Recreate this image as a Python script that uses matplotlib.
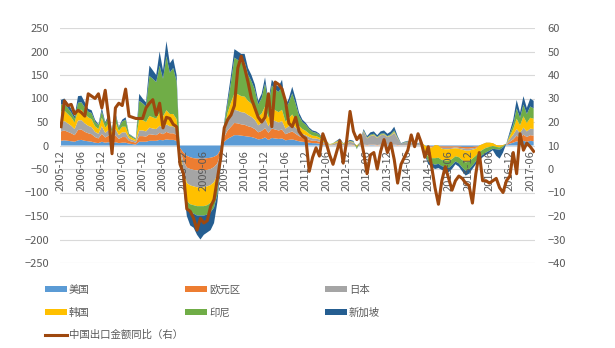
import numpy as np
import pandas as pd
import matplotlib
matplotlib.use('Agg')
import matplotlib.pyplot as plt
from matplotlib.patches import Patch
from matplotlib.lines import Line2D

plt.rcParams['font.family'] = ['Noto Sans CJK SC', 'DejaVu Sans']

# 月份 2005-12 ~ 2017-07
months = pd.period_range('2005-12', periods=140, freq='M').strftime('%Y-%m').tolist()

# 左轴: 各经济体贡献 (堆积面积)
us = [10, 11, 10, 9, 8, 11, 12, 10, 9, 8, 6, 5,
      8, 6, 7, 5, 7, 5, 6, 6, 4, 3, 2, 8,
      8, 8, 10, 10, 10, 12, 11, 13, 12, 12, 10, -5,
      -15, -22, -25, -27, -28, -28, -28, -27, -26, -24, -20, -8,
      8, 14, 18, 22, 22, 21, 20, 19, 18, 16, 13, 14,
      17, 12, 16, 15, 14, 15, 11, 12, 13, 11, 9, 8,
      7, 6, 5, 5, 4, 2, 1, 0, 0, 1, 1, 0,
      0, 1, 0, -1, 0, 1, 0, 1, 1, 0, 1, 1,
      1, 1, 1, 0, 0, 0, 0, 0, 0, 0, 0, -1,
      -2, -2, -2, -2, -2, -2, -2, -2, -2, -2, -3, -3,
      -3, -3, -2, -2, -1, -1, -1, 0, -1, -1, 0, 1,
      4, 6, 9, 7, 10, 8, 10, 9]
ez = [20, 21, 19, 17, 14, 22, 22, 19, 17, 16, 12, 10,
      17, 11, 14, 8, 15, 9, 12, 12, 6, 5, 4, 12,
      12, 11, 14, 13, 12, 15, 13, 16, 14, 14, 12, -5,
      -18, -25, -25, -25, -25, -25, -25, -25, -24, -22, -18, -7,
      10, 18, 22, 26, 25, 24, 24, 22, 21, 19, 15, 17,
      20, 15, 20, 19, 18, 19, 13, 15, 17, 14, 11, 9,
      8, 6, 5, 5, 4, 2, 1, 0, 0, 1, 1, 0,
      1, 1, 1, -1, 0, 1, 1, 1, 1, 1, 1, 1,
      1, 1, 1, 1, 0, 0, 1, 0, 0, 0, 0, -1,
      -2, -2, -3, -3, -3, -3, -3, -3, -2, -3, -3, -4,
      -4, -3, -3, -2, -2, -1, -1, -1, -1, -1, -1, 1,
      4, 7, 12, 9, 13, 10, 12, 12]
jp = [20, 20, 18, 16, 13, 20, 20, 18, 16, 15, 11, 10,
      16, 10, 12, 7, 13, 8, 10, 10, 5, 4, 3, 12,
      12, 11, 14, 13, 13, 15, 14, 16, 15, 15, 12, -4,
      -20, -33, -35, -35, -36, -36, -36, -35, -34, -32, -24, -8,
      10, 18, 24, 28, 27, 26, 26, 24, 22, 20, 15, 17,
      20, 14, 19, 18, 17, 18, 12, 14, 16, 13, 10, 8,
      7, 6, 5, 5, 5, 4, 3, 2, 3, 4, 6, 3,
      4, 6, 5, 2, 7, 28, 14, 18, 20, 15, 20, 21,
      16, 19, 25, 14, 4, 6, 7, 5, 3, 4, 7, 2,
      0, -1, 6, 5, -2, -3, -3, -2, -2, -2, -3, -4,
      -4, -3, -2, 4, 6, 8, 8, 6, 3, 2, 2, 2,
      6, 10, 14, 11, 15, 12, 14, 14]
kr = [22, 22, 20, 18, 14, 22, 22, 20, 18, 17, 12, 10,
      18, 11, 14, 8, 15, 9, 12, 12, 5, 4, 3, 25,
      22, 20, 25, 24, 22, 28, 24, 30, 26, 26, 22, -4,
      -22, -38, -40, -40, -40, -40, -40, -40, -38, -36, -28, -9,
      10, 20, 28, 35, 35, 34, 34, 30, 28, 25, 18, 20,
      26, 18, 25, 23, 22, 24, 15, 17, 20, 16, 12, 10,
      9, 7, 6, 5, 4, 3, 2, 1, 1, 2, 2, 1,
      1, 1, 1, -3, 1, 1, 1, 1, 1, 1, 1, 1,
      1, 1, 2, 1, 0, 0, 0, 0, 0, 0, 0, -12,
      -20, -22, -28, -26, -24, -24, -25, -22, -17, -18, -22, -25,
      -23, -19, -15, -14, -12, -11, -9, -6, -4, -4, -2, 0,
      6, 12, 22, 16, 24, 18, 23, 22]
idn = [15, 14, 13, 10, 8, 16, 16, 14, 12, 13, 10, 8,
       14, 9, 13, 5, 15, 7, 11, 15, 4, 3, 2, 38,
       36, 33, 85, 82, 78, 100, 80, 115, 88, 98, 80, -1,
       -8, -15, -18, -18, -20, -20, -20, -20, -20, -18, -14, -4,
       8, 20, 43, 76, 73, 72, 74, 56, 48, 39, 26, 33,
       49, 28, 48, 44, 43, 50, 27, 33, 45, 35, 21, 15,
       13, 10, 8, 7, 6, 3, 2, 0, 1, 1, 2, 1,
       1, 1, 1, -4, 1, 1, 1, 2, 2, 1, 2, 2,
       1, 2, 3, 1, 0, 1, 1, 0, 0, 0, 0, -5,
       -10, -11, -14, -13, -13, -14, -15, -13, -11, -13, -16, -18,
       -17, -15, -12, -12, -11, -10, -8, -6, -5, -5, -3, 0,
       4, 10, 22, 16, 25, 19, 24, 22]
sg = [10, 12, 10, 8, 5, 14, 14, 11, 6, 6, 4, 2,
      7, 3, 5, 2, 5, 2, 4, 5, 1, 1, 1, 15,
      10, 9, 22, 18, 15, 30, 18, 32, 20, 20, 14, -1,
      -7, -17, -27, -30, -41, -51, -41, -38, -38, -33, -16, -4,
      4, 10, 15, 18, 18, 18, 17, 14, 13, 11, 8, 9,
      13, 8, 12, 11, 11, 14, 7, 9, 14, 11, 7, 5,
      4, 3, 3, 3, 2, 1, 1, 0, 0, 1, 3, 0,
      1, 2, 2, -1, 1, 3, 3, 5, 5, 4, 5, 6,
      5, 6, 8, 3, 1, 1, 1, 1, 1, 1, 1, -3,
      -6, -7, -9, -9, -8, -9, -9, -8, -6, -7, -8, -10,
      -9, -7, -6, -6, -5, -5, -4, -3, -14, -19, -11, 1,
      6, 10, 18, 11, 18, 13, 17, 16]

# 右轴: 中国出口金额同比 (%)
cn_export = [18, 29, 27, 27.5, 23.5, 25, 24, 22.5, 32, 31, 30, 32,
             26, 33.5, 22, 6.5, 26, 28, 27, 34, 22.5, 22, 21.5, 21.5,
             21.5, 26, 28, 29.5, 23, 28, 17.5, 22, 21.5, 19, 18, 2,
             -2, -17, -18, -21, -26, -21, -23, -22, -16, -13, -4, 5,
             17.5, 21, 23, 27, 43, 48, 43, 37, 30, 26, 22, 20,
             22, 32, 18, 37, 36, 34, 29, 19.5, 18, 22, 16, 14,
             13, -1, 5, 9, 5.5, 15, 11, 6, 2, 7, 12, 2.5,
             12, 24.5, 16, 12.5, 14.5, 7, -2, 6, 7, 0, 7.5, 12.5,
             7, 11, 4, -6, 2, 5, 8, 14.5, 9.5, 15, 11, 5,
             9.5, 1, -8, -15, -5, 1, -4, -9, -5, -3, -4, -6,
             -7, -14.5, -2, 7, -5, -5, -6, -5, -4, -8, -10, -5,
             -3, 7, -2, 15, 8, 11, 9.5, 7.5]

names = ['美国', '欧元区', '日本', '韩国', '印尼', '新加坡']
colors = ['#5B9BD5', '#ED7D31', '#A5A5A5', '#FFC000', '#70AD47', '#255E91']
line_color = '#9E480E'
txt = '#595959'

x = np.arange(len(months))

fig = plt.figure(figsize=(6.15, 3.48), dpi=100)
ax = fig.add_axes([60/615, 85/348, 475/615, 235/348])

yt = np.arange(-250, 251, 50)
for v in yt:
    ax.axhline(v, color='#D9D9D9', linewidth=0.8, zorder=0)
ax.stackplot(x, us, ez, jp, kr, idn, sg, colors=colors, linewidth=0, zorder=2)
ax.set_ylim(-250, 250)
ax.set_yticks(yt)
ax.set_xlim(-0.3, 139.4)
ax.set_axisbelow(False)
for s in ax.spines.values():
    s.set_visible(False)
ax.spines['bottom'].set_position(('data', 0))

tick_pos = x[::6]
ax.set_xticks(tick_pos)
ax.set_xticklabels([months[i] for i in tick_pos], rotation=90, fontsize=8, color=txt)
ax.tick_params(axis='x', length=0, pad=3)
ax.tick_params(axis='y', length=0, pad=8, labelsize=8, labelcolor=txt)

ax2 = ax.twinx()
ax2.plot(x, cn_export, color=line_color, linewidth=2.2, zorder=3)
ax2.set_ylim(-40, 60)
ax2.set_yticks(np.arange(-40, 61, 10))
ax2.tick_params(axis='y', length=0, pad=9, labelsize=8, labelcolor=txt)
for s in ax2.spines.values():
    s.set_visible(False)

# 图例: 三列, 分开放置
patches = [Patch(facecolor=c, edgecolor='none') for c in colors]
line_h = Line2D([0], [0], color=line_color, linewidth=2.2)
cols = [([patches[0], patches[3], line_h], ['美国', '韩国', '中国出口金额同比（右）']),
        ([patches[1], patches[4]], ['欧元区', '印尼']),
        ([patches[2], patches[5]], ['日本', '新加坡'])]
for k, (h, lab) in enumerate(cols):
    fig.legend(h, lab, loc='upper left', bbox_to_anchor=((45 + 140*k)/615, 1 - 285/348),
               frameon=False, fontsize=7.5, handlelength=2.1, handleheight=0.5,
               handletextpad=0.2, labelspacing=1.2, borderpad=0, borderaxespad=0,
               labelcolor=txt)

fig.savefig('out.png', dpi=100)
